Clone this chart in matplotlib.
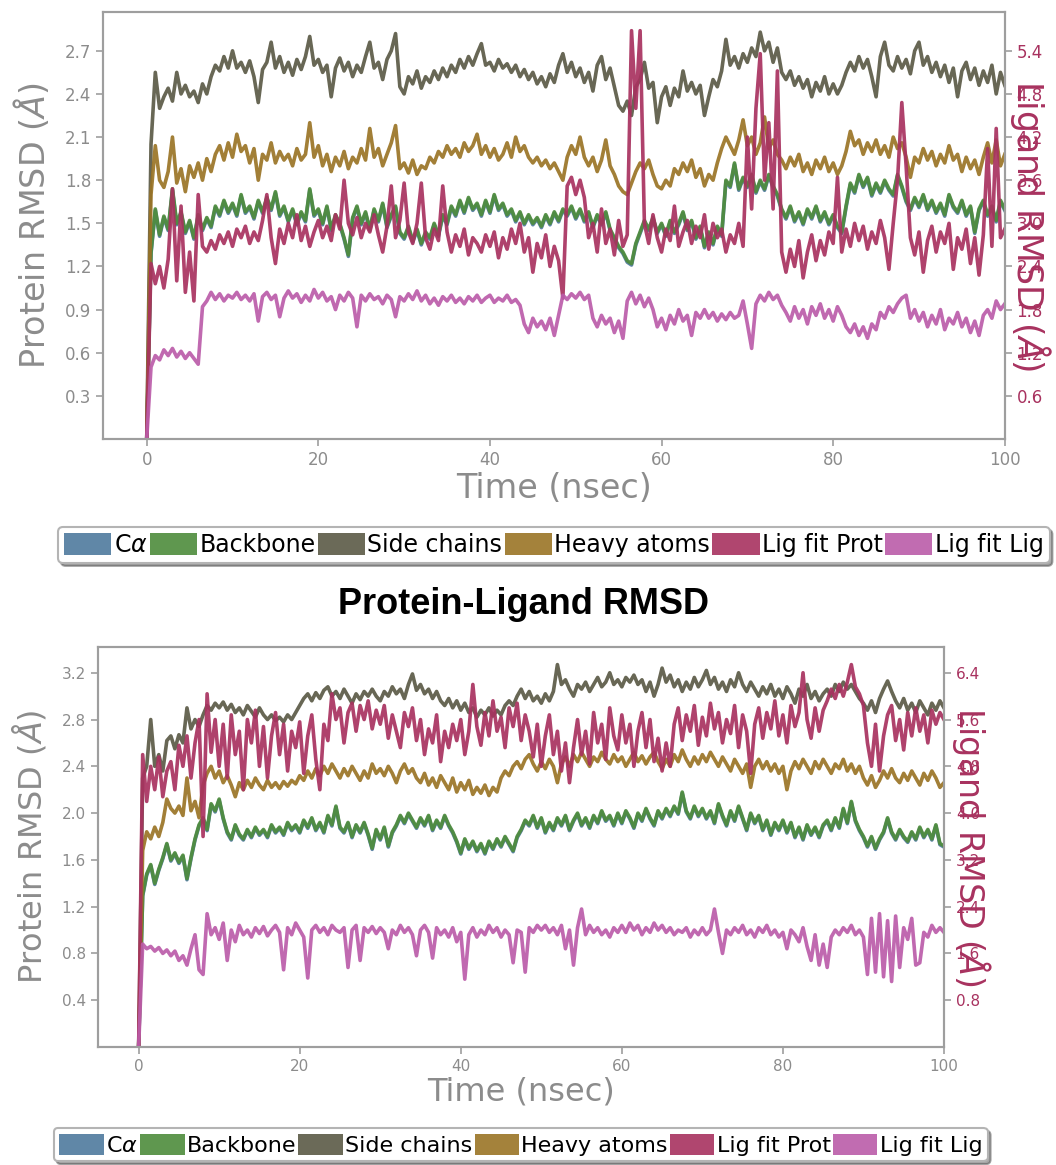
import numpy as np
import matplotlib
matplotlib.use("Agg")
import matplotlib.pyplot as plt
import matplotlib.patches as mpatches

plt.rcParams['font.family'] = ['DejaVu Sans']
plt.rcParams['mathtext.fontset'] = 'dejavusans'

# ---------------- data (RMSD, Angstrom, one reading every 0.5 ns) ----------------
time_ns = np.linspace(0, 100, 201)

series_names = ['C$\\alpha$', 'Backbone', 'Side chains', 'Heavy atoms', 'Lig fit Prot', 'Lig fit Lig']

# top panel
top_ca = [
    0.00, 1.29, 1.59, 1.41, 1.54, 1.45, 1.73, 1.49, 1.57, 1.43, 1.51, 1.39, 1.55, 1.45, 1.53, 1.47, 1.61, 1.55, 1.65, 1.57,
    1.63, 1.55, 1.69, 1.57, 1.61, 1.53, 1.65, 1.57, 1.67, 1.59, 1.71, 1.55, 1.61, 1.51, 1.59, 1.49, 1.57, 1.51, 1.73, 1.55,
    1.59, 1.49, 1.61, 1.45, 1.55, 1.49, 1.39, 1.27, 1.53, 1.61, 1.49, 1.57, 1.45, 1.59, 1.51, 1.63, 1.47, 1.55, 1.61, 1.43,
    1.39, 1.47, 1.37, 1.45, 1.35, 1.43, 1.39, 1.49, 1.41, 1.55, 1.49, 1.61, 1.55, 1.65, 1.57, 1.67, 1.59, 1.63, 1.55, 1.65,
    1.57, 1.69, 1.59, 1.63, 1.55, 1.59, 1.51, 1.57, 1.49, 1.55, 1.49, 1.53, 1.47, 1.55, 1.49, 1.57, 1.51, 1.59, 1.55, 1.61,
    1.53, 1.59, 1.51, 1.57, 1.47, 1.55, 1.49, 1.57, 1.45, 1.39, 1.33, 1.29, 1.23, 1.21, 1.35, 1.43, 1.51, 1.45, 1.53, 1.43,
    1.49, 1.41, 1.51, 1.43, 1.49, 1.57, 1.45, 1.51, 1.39, 1.47, 1.33, 1.43, 1.35, 1.47, 1.41, 1.79, 1.75, 1.91, 1.73, 1.81,
    1.75, 1.83, 1.71, 1.79, 1.73, 1.83, 1.75, 1.69, 1.59, 1.53, 1.61, 1.51, 1.57, 1.49, 1.59, 1.53, 1.61, 1.51, 1.57, 1.49,
    1.55, 1.47, 1.43, 1.61, 1.77, 1.71, 1.83, 1.75, 1.81, 1.69, 1.77, 1.71, 1.79, 1.73, 1.69, 1.83, 1.75, 1.65, 1.59, 1.67,
    1.61, 1.69, 1.59, 1.65, 1.57, 1.63, 1.55, 1.69, 1.61, 1.57, 1.65, 1.55, 1.61, 1.43, 1.59, 1.65, 1.55, 1.61, 1.51, 1.65,
    1.59]
top_backbone = [
    0.00, 1.30, 1.60, 1.42, 1.55, 1.46, 1.74, 1.50, 1.58, 1.44, 1.52, 1.40, 1.56, 1.46, 1.54, 1.48, 1.62, 1.56, 1.66, 1.58,
    1.64, 1.56, 1.70, 1.58, 1.62, 1.54, 1.66, 1.58, 1.68, 1.60, 1.72, 1.56, 1.62, 1.52, 1.60, 1.50, 1.58, 1.52, 1.74, 1.56,
    1.60, 1.50, 1.62, 1.46, 1.56, 1.50, 1.40, 1.28, 1.54, 1.62, 1.50, 1.58, 1.46, 1.60, 1.52, 1.64, 1.48, 1.56, 1.62, 1.44,
    1.40, 1.48, 1.38, 1.46, 1.36, 1.44, 1.40, 1.50, 1.42, 1.56, 1.50, 1.62, 1.56, 1.66, 1.58, 1.68, 1.60, 1.64, 1.56, 1.66,
    1.58, 1.70, 1.60, 1.64, 1.56, 1.60, 1.52, 1.58, 1.50, 1.56, 1.50, 1.54, 1.48, 1.56, 1.50, 1.58, 1.52, 1.60, 1.56, 1.62,
    1.54, 1.60, 1.52, 1.58, 1.48, 1.56, 1.50, 1.58, 1.46, 1.40, 1.34, 1.30, 1.24, 1.22, 1.36, 1.44, 1.52, 1.46, 1.54, 1.44,
    1.50, 1.42, 1.52, 1.44, 1.50, 1.58, 1.46, 1.52, 1.40, 1.48, 1.34, 1.44, 1.36, 1.48, 1.42, 1.80, 1.76, 1.92, 1.74, 1.82,
    1.76, 1.84, 1.72, 1.80, 1.74, 1.84, 1.76, 1.70, 1.60, 1.54, 1.62, 1.52, 1.58, 1.50, 1.60, 1.54, 1.62, 1.52, 1.58, 1.50,
    1.56, 1.48, 1.44, 1.62, 1.78, 1.72, 1.84, 1.76, 1.82, 1.70, 1.78, 1.72, 1.80, 1.74, 1.70, 1.84, 1.76, 1.66, 1.60, 1.68,
    1.62, 1.70, 1.60, 1.66, 1.58, 1.64, 1.56, 1.70, 1.62, 1.58, 1.66, 1.56, 1.62, 1.44, 1.60, 1.66, 1.56, 1.62, 1.52, 1.66,
    1.60]
top_side = [
    0.00, 2.05, 2.55, 2.30, 2.38, 2.44, 2.35, 2.55, 2.40, 2.46, 2.38, 2.42, 2.34, 2.47, 2.40, 2.52, 2.60, 2.56, 2.66, 2.58,
    2.70, 2.58, 2.62, 2.55, 2.63, 2.52, 2.34, 2.57, 2.62, 2.76, 2.58, 2.66, 2.55, 2.62, 2.53, 2.64, 2.57, 2.66, 2.80, 2.60,
    2.64, 2.55, 2.60, 2.38, 2.58, 2.65, 2.56, 2.62, 2.52, 2.60, 2.55, 2.66, 2.76, 2.58, 2.62, 2.50, 2.64, 2.70, 2.82, 2.45,
    2.40, 2.52, 2.47, 2.56, 2.44, 2.52, 2.48, 2.56, 2.50, 2.58, 2.52, 2.60, 2.55, 2.64, 2.58, 2.66, 2.60, 2.68, 2.75, 2.60,
    2.62, 2.56, 2.64, 2.58, 2.61, 2.55, 2.60, 2.52, 2.57, 2.50, 2.55, 2.47, 2.52, 2.45, 2.54, 2.48, 2.60, 2.68, 2.55, 2.62,
    2.52, 2.58, 2.48, 2.55, 2.42, 2.60, 2.66, 2.50, 2.58, 2.45, 2.32, 2.28, 2.35, 2.25, 2.45, 2.50, 2.62, 2.44, 2.48, 2.20,
    2.38, 2.45, 2.32, 2.44, 2.38, 2.56, 2.42, 2.48, 2.40, 2.46, 2.25, 2.38, 2.50, 2.45, 2.56, 2.78, 2.60, 2.66, 2.58, 2.68,
    2.62, 2.72, 2.66, 2.83, 2.70, 2.76, 2.62, 2.72, 2.55, 2.50, 2.56, 2.46, 2.52, 2.44, 2.50, 2.38, 2.48, 2.42, 2.52, 2.40,
    2.47, 2.40, 2.46, 2.55, 2.62, 2.56, 2.66, 2.58, 2.64, 2.52, 2.38, 2.66, 2.76, 2.60, 2.56, 2.66, 2.58, 2.64, 2.54, 2.70,
    2.76, 2.60, 2.66, 2.55, 2.62, 2.52, 2.60, 2.48, 2.58, 2.38, 2.56, 2.62, 2.50, 2.58, 2.46, 2.56, 2.48, 2.60, 2.40, 2.55,
    2.46]
top_heavy = [
    0.00, 1.70, 2.04, 1.80, 1.75, 1.86, 2.10, 1.78, 1.88, 1.72, 1.90, 1.82, 1.92, 1.80, 1.95, 1.86, 1.98, 2.04, 1.94, 2.06,
    1.96, 2.12, 2.00, 2.04, 1.92, 2.02, 1.80, 1.98, 1.94, 2.06, 1.92, 2.00, 1.94, 1.98, 1.90, 2.02, 1.94, 1.98, 2.20, 1.96,
    2.04, 1.90, 1.98, 1.86, 1.96, 1.90, 2.00, 1.88, 1.96, 1.92, 2.02, 1.94, 2.16, 1.96, 2.02, 1.90, 1.98, 2.06, 2.18, 1.88,
    1.92, 1.85, 1.94, 1.84, 1.90, 1.88, 1.96, 1.92, 2.00, 1.96, 2.04, 1.98, 2.02, 1.96, 2.06, 2.00, 2.04, 2.12, 1.98, 2.04,
    1.96, 2.02, 1.94, 1.98, 2.06, 1.96, 2.10, 2.00, 2.04, 1.96, 1.92, 1.96, 1.90, 1.94, 1.88, 1.92, 1.86, 1.80, 1.96, 2.04,
    1.98, 2.10, 1.96, 1.90, 1.96, 1.86, 1.94, 2.08, 1.90, 1.84, 1.76, 1.72, 1.70, 1.78, 1.86, 1.92, 1.88, 1.94, 1.84, 1.76,
    1.74, 1.80, 1.76, 1.88, 1.84, 1.92, 1.86, 1.94, 1.82, 1.88, 1.76, 1.84, 1.80, 1.92, 2.02, 2.10, 2.04, 1.98, 2.08, 2.22,
    2.04, 2.10, 1.98, 2.06, 2.24, 2.02, 2.08, 1.98, 1.94, 1.88, 1.96, 1.90, 1.98, 1.86, 1.92, 1.84, 1.94, 1.88, 1.96, 1.86,
    1.92, 1.84, 1.90, 2.00, 2.14, 2.04, 2.08, 1.98, 2.06, 2.00, 2.08, 1.98, 2.04, 1.96, 2.10, 2.02, 2.06, 1.96, 1.82, 1.96,
    1.92, 2.02, 1.94, 2.00, 1.90, 1.98, 1.92, 2.04, 1.94, 1.98, 1.86, 1.96, 1.88, 1.94, 1.84, 1.96, 2.06, 1.92, 2.08, 1.90,
    1.98]
top_ligprot = [
    0.00, 1.22, 1.08, 1.20, 1.05, 1.25, 1.74, 1.10, 1.62, 1.02, 1.30, 0.96, 1.70, 1.34, 1.30, 1.38, 1.32, 1.42, 1.36, 1.44,
    1.34, 1.46, 1.40, 1.48, 1.36, 1.44, 1.38, 1.52, 1.70, 1.40, 1.22, 1.46, 1.36, 1.50, 1.40, 1.56, 1.38, 1.48, 1.34, 1.44,
    1.52, 1.40, 1.48, 1.38, 1.56, 1.46, 1.80, 1.50, 1.42, 1.54, 1.40, 1.50, 1.44, 1.56, 1.42, 1.30, 1.48, 1.76, 1.40, 1.52,
    1.78, 1.44, 1.36, 1.50, 1.78, 1.40, 1.32, 1.46, 1.38, 1.76, 1.44, 1.30, 1.42, 1.34, 1.46, 1.28, 1.40, 1.36, 1.30, 1.42,
    1.34, 1.44, 1.26, 1.40, 1.32, 1.46, 1.36, 1.50, 1.30, 1.40, 1.16, 1.36, 1.26, 1.42, 1.20, 1.34, 1.24, 0.98, 1.76, 1.82,
    1.70, 1.80, 1.68, 1.40, 1.50, 1.30, 1.60, 1.36, 1.46, 1.28, 1.52, 1.34, 1.42, 2.84, 2.30, 2.84, 1.50, 1.36, 1.56, 1.40,
    1.30, 1.46, 1.38, 1.62, 1.34, 1.44, 1.52, 1.36, 1.48, 1.40, 1.56, 1.32, 1.50, 1.40, 1.46, 1.30, 1.42, 1.36, 1.50, 1.34,
    2.10, 1.60, 2.30, 2.68, 1.80, 2.20, 1.60, 2.56, 1.30, 1.16, 1.32, 1.20, 1.38, 1.12, 1.30, 1.42, 1.24, 1.38, 1.28, 1.44,
    1.36, 1.82, 1.30, 1.46, 1.34, 1.50, 1.38, 1.48, 1.32, 1.44, 1.36, 1.52, 1.40, 1.18, 1.50, 1.80, 2.34, 1.90, 1.40, 1.28,
    1.44, 1.16, 1.38, 1.48, 1.30, 1.44, 1.36, 1.50, 1.18, 1.40, 1.32, 1.46, 1.22, 1.40, 1.14, 1.42, 2.02, 1.34, 2.16, 1.40,
    1.46]
top_liglig = [
    0.00, 0.50, 0.58, 0.55, 0.62, 0.58, 0.63, 0.57, 0.61, 0.56, 0.60, 0.56, 0.52, 0.92, 0.96, 1.02, 0.97, 1.01, 0.96, 1.00,
    0.98, 1.02, 0.97, 1.00, 0.96, 1.01, 0.82, 0.99, 1.02, 0.97, 1.00, 0.85, 0.98, 1.03, 0.98, 1.01, 0.95, 1.00, 0.96, 1.04,
    0.98, 1.02, 0.96, 0.99, 0.90, 1.00, 0.96, 1.02, 0.98, 0.78, 1.00, 0.96, 1.01, 0.97, 0.99, 0.94, 1.00, 0.97, 0.85, 0.99,
    0.96, 1.01, 0.97, 1.03, 0.96, 1.00, 0.94, 0.98, 0.93, 0.99, 0.96, 1.00, 0.95, 0.98, 0.94, 0.99, 0.96, 1.00, 0.95, 0.98,
    1.00, 0.95, 0.98, 0.96, 1.00, 0.95, 0.97, 0.93, 0.80, 0.74, 0.84, 0.78, 0.82, 0.76, 0.84, 0.72, 0.86, 1.00, 0.97, 1.01,
    0.98, 1.02, 0.97, 1.00, 0.84, 0.78, 0.86, 0.80, 0.84, 0.74, 0.82, 0.70, 0.96, 1.02, 0.94, 1.00, 0.92, 0.98, 0.90, 0.78,
    0.84, 0.76, 0.86, 0.80, 0.90, 0.82, 0.86, 0.72, 0.88, 0.84, 0.90, 0.84, 0.88, 0.82, 0.87, 0.83, 0.88, 0.84, 0.86, 0.96,
    0.80, 0.63, 0.94, 1.00, 0.96, 1.02, 0.97, 1.00, 0.93, 0.88, 0.82, 0.92, 0.84, 0.90, 0.80, 0.92, 0.86, 0.94, 0.84, 0.90,
    0.82, 0.92, 0.86, 0.78, 0.74, 0.80, 0.72, 0.78, 0.70, 0.80, 0.76, 0.88, 0.84, 0.92, 0.88, 0.94, 0.98, 1.00, 0.84, 0.90,
    0.82, 0.88, 0.78, 0.86, 0.80, 0.90, 0.76, 0.84, 0.80, 0.88, 0.78, 0.84, 0.74, 0.82, 0.72, 0.86, 0.90, 0.84, 0.96, 0.90,
    0.94]

# bottom panel
bot_ca = [
    0.00, 1.29, 1.47, 1.55, 1.39, 1.51, 1.61, 1.73, 1.59, 1.65, 1.57, 1.63, 1.43, 1.61, 1.77, 1.89, 1.95, 1.85, 2.07, 2.01,
    2.11, 1.95, 1.83, 1.77, 1.89, 1.81, 1.77, 1.85, 1.79, 1.87, 1.81, 1.85, 1.79, 1.89, 1.83, 1.87, 1.81, 1.91, 1.85, 1.89,
    1.83, 1.93, 1.87, 1.95, 1.85, 1.91, 1.83, 1.97, 1.89, 2.05, 1.87, 1.83, 1.91, 1.79, 1.89, 1.83, 1.91, 1.81, 1.69, 1.85,
    1.77, 1.87, 1.71, 1.83, 1.89, 1.97, 1.91, 1.99, 1.93, 1.87, 1.95, 1.89, 1.97, 1.85, 1.93, 1.87, 1.97, 1.89, 1.83, 1.75,
    1.65, 1.77, 1.69, 1.75, 1.67, 1.73, 1.65, 1.75, 1.69, 1.77, 1.71, 1.79, 1.73, 1.67, 1.79, 1.85, 1.93, 1.89, 1.97, 1.87,
    1.95, 1.83, 1.91, 1.85, 1.95, 1.89, 1.97, 1.85, 1.93, 1.99, 1.89, 1.95, 1.87, 1.97, 1.91, 2.01, 1.93, 1.97, 1.89, 1.99,
    1.91, 2.01, 1.95, 1.87, 1.99, 1.93, 2.03, 1.95, 1.89, 2.01, 1.95, 2.03, 1.97, 2.05, 1.99, 2.17, 2.01, 1.95, 2.05, 1.97,
    2.03, 1.95, 2.01, 1.91, 2.07, 1.97, 1.89, 2.01, 1.93, 2.05, 1.95, 1.85, 1.99, 1.91, 1.97, 1.85, 1.93, 1.81, 1.91, 1.85,
    1.93, 1.83, 1.91, 1.79, 1.87, 1.77, 1.89, 1.81, 1.87, 1.79, 1.89, 1.93, 1.85, 1.95, 1.87, 2.03, 1.91, 2.09, 1.93, 1.85,
    1.79, 1.71, 1.79, 1.69, 1.77, 1.83, 1.95, 1.83, 1.77, 1.85, 1.79, 1.75, 1.83, 1.77, 1.87, 1.79, 1.85, 1.77, 1.89, 1.73,
    1.71]
bot_backbone = [
    0.00, 1.30, 1.48, 1.56, 1.40, 1.52, 1.62, 1.74, 1.60, 1.66, 1.58, 1.64, 1.44, 1.62, 1.78, 1.90, 1.96, 1.86, 2.08, 2.02,
    2.12, 1.96, 1.84, 1.78, 1.90, 1.82, 1.78, 1.86, 1.80, 1.88, 1.82, 1.86, 1.80, 1.90, 1.84, 1.88, 1.82, 1.92, 1.86, 1.90,
    1.84, 1.94, 1.88, 1.96, 1.86, 1.92, 1.84, 1.98, 1.90, 2.06, 1.88, 1.84, 1.92, 1.80, 1.90, 1.84, 1.92, 1.82, 1.70, 1.86,
    1.78, 1.88, 1.72, 1.84, 1.90, 1.98, 1.92, 2.00, 1.94, 1.88, 1.96, 1.90, 1.98, 1.86, 1.94, 1.88, 1.98, 1.90, 1.84, 1.76,
    1.66, 1.78, 1.70, 1.76, 1.68, 1.74, 1.66, 1.76, 1.70, 1.78, 1.72, 1.80, 1.74, 1.68, 1.80, 1.86, 1.94, 1.90, 1.98, 1.88,
    1.96, 1.84, 1.92, 1.86, 1.96, 1.90, 1.98, 1.86, 1.94, 2.00, 1.90, 1.96, 1.88, 1.98, 1.92, 2.02, 1.94, 1.98, 1.90, 2.00,
    1.92, 2.02, 1.96, 1.88, 2.00, 1.94, 2.04, 1.96, 1.90, 2.02, 1.96, 2.04, 1.98, 2.06, 2.00, 2.18, 2.02, 1.96, 2.06, 1.98,
    2.04, 1.96, 2.02, 1.92, 2.08, 1.98, 1.90, 2.02, 1.94, 2.06, 1.96, 1.86, 2.00, 1.92, 1.98, 1.86, 1.94, 1.82, 1.92, 1.86,
    1.94, 1.84, 1.92, 1.80, 1.88, 1.78, 1.90, 1.82, 1.88, 1.80, 1.90, 1.94, 1.86, 1.96, 1.88, 2.04, 1.92, 2.10, 1.94, 1.86,
    1.80, 1.72, 1.80, 1.70, 1.78, 1.84, 1.96, 1.84, 1.78, 1.86, 1.80, 1.76, 1.84, 1.78, 1.88, 1.80, 1.86, 1.78, 1.90, 1.74,
    1.72]
bot_side = [
    0.00, 2.30, 2.40, 2.80, 2.40, 2.50, 2.36, 2.62, 2.66, 2.55, 2.67, 2.60, 2.90, 2.72, 2.80, 2.74, 2.84, 2.92, 2.88, 2.94,
    2.90, 2.95, 2.88, 2.93, 2.86, 2.90, 2.84, 2.92, 2.87, 2.82, 2.90, 2.84, 2.80, 2.84, 2.79, 2.82, 2.78, 2.84, 2.80, 2.86,
    2.92, 2.98, 3.02, 2.96, 3.03, 2.98, 3.05, 3.08, 3.00, 3.04, 2.98, 3.06, 3.00, 2.94, 3.02, 2.97, 3.04, 3.00, 3.06, 3.00,
    2.96, 3.04, 3.00, 3.08, 3.02, 3.06, 2.98, 3.10, 3.19, 3.05, 3.10, 3.02, 3.06, 2.98, 3.04, 2.96, 2.92, 2.98, 2.90, 2.96,
    2.88, 2.94, 2.86, 2.90, 2.82, 2.88, 2.84, 2.90, 2.83, 2.88, 2.84, 2.92, 2.96, 2.92, 3.00, 3.06, 2.98, 3.04, 2.96, 3.00,
    2.94, 3.02, 2.96, 3.04, 3.27, 3.10, 3.14, 3.06, 3.00, 3.10, 3.06, 3.12, 3.04, 3.10, 3.16, 3.08, 3.12, 3.20, 3.10, 3.14,
    3.08, 3.16, 3.12, 3.18, 3.10, 3.14, 3.04, 3.12, 3.00, 3.10, 3.24, 3.12, 3.18, 3.08, 3.14, 3.04, 3.12, 3.06, 3.16, 3.08,
    3.14, 3.22, 3.10, 3.16, 3.06, 3.12, 3.04, 3.14, 3.08, 3.20, 3.10, 3.04, 3.12, 3.06, 3.00, 3.08, 3.02, 3.10, 3.00, 3.06,
    2.98, 3.08, 3.02, 2.94, 3.06, 3.00, 3.10, 2.98, 3.04, 2.96, 3.02, 3.06, 3.00, 3.10, 3.04, 3.12, 3.06, 3.10, 3.04, 2.98,
    2.94, 2.88, 2.96, 2.86, 2.98, 3.06, 3.13, 3.04, 2.96, 2.90, 2.98, 2.88, 2.94, 2.86, 2.96, 2.90, 2.84, 2.94, 2.88, 2.96,
    2.90]
bot_heavy = [
    0.00, 1.68, 1.84, 1.78, 1.88, 1.80, 1.92, 2.12, 2.04, 2.00, 2.06, 1.98, 2.30, 2.02, 2.10, 1.96, 2.24, 2.34, 2.40, 2.30,
    2.36, 2.26, 2.32, 2.24, 2.14, 2.26, 2.20, 2.28, 2.22, 2.30, 2.24, 2.20, 2.28, 2.22, 2.26, 2.21, 2.27, 2.23, 2.28, 2.25,
    2.32, 2.28, 2.36, 2.30, 2.38, 2.32, 2.40, 2.34, 2.42, 2.36, 2.30, 2.38, 2.32, 2.40, 2.34, 2.28, 2.36, 2.30, 2.42, 2.34,
    2.38, 2.32, 2.40, 2.34, 2.26, 2.36, 2.42, 2.34, 2.38, 2.30, 2.26, 2.34, 2.24, 2.30, 2.22, 2.32, 2.26, 2.20, 2.30, 2.18,
    2.26, 2.20, 2.28, 2.16, 2.22, 2.17, 2.24, 2.15, 2.22, 2.18, 2.30, 2.36, 2.32, 2.40, 2.44, 2.38, 2.46, 2.50, 2.42, 2.36,
    2.44, 2.38, 2.46, 2.40, 2.26, 2.42, 2.48, 2.40, 2.50, 2.44, 2.52, 2.46, 2.40, 2.48, 2.44, 2.52, 2.46, 2.42, 2.50, 2.44,
    2.48, 2.40, 2.46, 2.52, 2.44, 2.49, 2.42, 2.48, 2.52, 2.44, 2.38, 2.46, 2.40, 2.50, 2.44, 2.54, 2.46, 2.40, 2.48, 2.42,
    2.50, 2.44, 2.52, 2.46, 2.40, 2.48, 2.42, 2.36, 2.46, 2.40, 2.34, 2.42, 2.22, 2.40, 2.46, 2.38, 2.44, 2.36, 2.42, 2.34,
    2.40, 2.20, 2.36, 2.44, 2.38, 2.46, 2.40, 2.34, 2.44, 2.38, 2.46, 2.40, 2.34, 2.42, 2.38, 2.46, 2.36, 2.42, 2.34, 2.40,
    2.30, 2.24, 2.32, 2.22, 2.28, 2.36, 2.30, 2.38, 2.30, 2.26, 2.34, 2.28, 2.36, 2.30, 2.24, 2.34, 2.28, 2.36, 2.30, 2.22,
    2.26]
bot_ligprot = [
    0.00, 2.50, 2.10, 2.40, 2.20, 2.48, 2.14, 2.36, 2.44, 2.20, 2.58, 2.40, 2.66, 2.30, 2.60, 2.80, 1.80, 3.02, 2.52, 2.80,
    2.40, 2.76, 2.30, 2.84, 2.50, 2.70, 2.20, 2.80, 2.60, 2.88, 2.40, 2.74, 2.30, 2.66, 2.86, 2.50, 2.76, 2.36, 2.70, 2.56,
    2.78, 2.34, 2.66, 2.84, 2.46, 2.20, 2.76, 2.62, 3.02, 2.80, 2.90, 2.60, 2.86, 2.94, 2.70, 2.92, 2.80, 2.96, 2.72, 2.88,
    2.76, 2.92, 2.64, 2.84, 2.70, 2.56, 2.86, 2.74, 2.90, 2.62, 2.80, 2.50, 2.72, 2.60, 2.84, 2.44, 2.70, 2.56, 2.76, 2.62,
    2.80, 2.50, 2.70, 3.10, 2.74, 2.58, 2.86, 2.66, 2.96, 2.70, 2.82, 2.56, 2.90, 2.74, 2.94, 2.62, 2.84, 2.70, 2.48, 2.76,
    2.40, 2.66, 2.84, 2.50, 2.70, 2.36, 2.60, 2.26, 2.56, 2.80, 2.50, 2.70, 2.42, 2.86, 2.60, 2.76, 2.46, 2.90, 2.66, 2.54,
    2.84, 2.60, 2.76, 2.40, 2.70, 2.86, 2.56, 2.80, 2.44, 2.64, 2.36, 2.60, 2.40, 2.76, 2.90, 2.62, 2.84, 2.70, 2.92, 2.58,
    2.82, 2.66, 2.94, 2.72, 2.86, 2.60, 2.80, 2.68, 2.92, 2.56, 2.84, 2.70, 2.34, 2.76, 2.90, 2.64, 2.86, 2.72, 2.96, 2.66,
    2.84, 2.60, 2.92, 2.74, 2.86, 3.20, 2.80, 2.64, 2.90, 2.70, 2.88, 2.96, 3.06, 2.98, 3.10, 3.00, 3.12, 3.27, 3.08, 3.02,
    2.92, 2.60, 2.40, 2.76, 2.36, 2.66, 2.84, 2.92, 2.62, 2.80, 2.54, 2.86, 2.66, 2.90, 2.70, 2.84, 2.60, 2.88, 2.76, 2.86,
    2.80]
bot_liglig = [
    0.00, 0.88, 0.84, 0.86, 0.82, 0.85, 0.80, 0.83, 0.78, 0.82, 0.74, 0.78, 0.70, 0.84, 0.96, 0.66, 0.62, 1.14, 0.96, 1.02,
    0.92, 1.06, 0.74, 1.00, 0.90, 1.04, 0.96, 1.00, 0.94, 1.02, 0.97, 1.03, 0.95, 1.00, 1.04, 0.98, 0.66, 1.02, 0.96, 1.06,
    1.00, 0.94, 0.59, 1.00, 1.04, 0.98, 1.02, 0.96, 1.04, 1.00, 0.98, 1.02, 0.68, 1.00, 1.04, 0.74, 1.02, 0.98, 1.03, 0.97,
    1.02, 0.98, 0.84, 1.00, 0.96, 1.04, 0.98, 1.02, 0.96, 0.78, 1.00, 1.04, 0.98, 0.76, 1.02, 0.96, 1.00, 0.94, 1.02, 0.90,
    0.98, 0.58, 0.96, 1.02, 0.94, 1.00, 0.96, 1.04, 0.98, 1.02, 0.94, 1.00, 0.96, 0.72, 1.00, 0.98, 0.64, 1.02, 0.98, 1.04,
    1.00, 1.04, 0.98, 1.02, 0.96, 1.04, 0.84, 1.00, 0.70, 1.02, 1.18, 0.96, 1.04, 0.98, 1.02, 0.96, 1.00, 0.94, 1.02, 0.98,
    1.04, 0.98, 1.06, 1.00, 1.04, 0.96, 1.02, 0.98, 1.06, 1.00, 1.04, 0.98, 1.02, 0.96, 1.00, 0.98, 1.02, 0.94, 1.00, 0.96,
    1.02, 0.96, 1.00, 1.18, 0.98, 0.80, 1.00, 0.96, 1.02, 0.98, 1.04, 0.96, 1.00, 0.94, 1.02, 0.98, 1.04, 0.96, 1.00, 0.94,
    0.98, 0.84, 1.00, 0.96, 0.90, 1.02, 0.86, 0.74, 0.96, 0.70, 0.88, 0.68, 0.94, 1.00, 0.96, 1.02, 0.98, 1.04, 0.96, 1.00,
    0.94, 0.62, 1.10, 0.64, 1.14, 0.60, 1.08, 0.56, 1.12, 0.68, 1.02, 0.92, 1.10, 0.70, 0.72, 0.98, 0.94, 1.04, 0.98, 1.02,
    0.98]

# axis ticks
top_yticks = [0.3, 0.6, 0.9, 1.2, 1.5, 1.8, 2.1, 2.4, 2.7]
top_rticks = [0.6, 1.2, 1.8, 2.4, 3.0, 3.6, 4.2, 4.8, 5.4]
bot_yticks = [0.4, 0.8, 1.2, 1.6, 2.0, 2.4, 2.8, 3.2]
bot_rticks = [0.8, 1.6, 2.4, 3.2, 4.0, 4.8, 5.6, 6.4]
xticks = [0, 20, 40, 60, 80, 100]

# ---------------- style ----------------
line_colors = ['#4f7a9e', '#4e8c3c', '#5b5a46', '#9a7426', '#a8325f', '#bb5ca9']
gray = '#8c8c8c'
spine_gray = '#9e9e9e'
lig_color = '#a8325f'


def draw_panel(ax, series, ylim, yticks, rticks, lab_x_left, lab_x_right, leg_y,
               label_size, rlabel_size, tick_size, leg_size):
    for vals, col in zip(series, line_colors):
        ax.plot(time_ns, vals, color=col, lw=2.6, alpha=0.92)
    ax.set_xlim(-5.1, 100)
    ax.set_ylim(ylim)
    ax.set_xticks(xticks)
    ax.set_yticks(yticks)
    ax.set_xlabel('Time (nsec)', fontsize=label_size, color=gray, labelpad=2)
    ax.set_ylabel(r'Protein RMSD ($\AA$)', fontsize=label_size, color=gray, va='center')
    ax.yaxis.set_label_coords(lab_x_left, 0.5)
    ax.tick_params(axis='both', colors=spine_gray, labelcolor=gray, labelsize=tick_size,
                   length=5, width=1.2, direction='out')
    ax.tick_params(axis='y', right=False)

    # right axis: ligand RMSD, same data range doubled
    ax2 = ax.twinx()
    ax2.set_ylim(ylim[0] * 2, ylim[1] * 2)
    ax2.set_yticks(rticks)
    ax2.tick_params(axis='y', colors=spine_gray, labelcolor=lig_color, labelsize=tick_size,
                    length=5, width=1.2, direction='out')
    ax2.set_ylabel(r'Ligand RMSD ($\AA$)', fontsize=rlabel_size, color=lig_color,
                   rotation=270, va='center', ha='center')
    ax2.yaxis.set_label_coords(lab_x_right, 0.5)

    for a in (ax, ax2):
        for sp in a.spines.values():
            sp.set_color(spine_gray)
            sp.set_linewidth(1.5)

    handles = [mpatches.Patch(facecolor=c, edgecolor='none', alpha=0.9) for c in line_colors]
    leg = ax.legend(handles, series_names, loc='upper center', bbox_to_anchor=(0.5, leg_y),
                    ncol=6, fontsize=leg_size, fancybox=True, shadow=True, frameon=True,
                    handlelength=2.0, handleheight=1.1, handletextpad=0.1,
                    columnspacing=0.1, borderpad=0.25, borderaxespad=0.0)
    leg.get_frame().set_edgecolor('#b4b4b4')
    leg.get_frame().set_linewidth(1.5)
    return ax2


fig = plt.figure(figsize=(10.56, 11.65), dpi=100)

ax_top = fig.add_axes([0.0975, 0.6232, 0.854, 0.3665])
draw_panel(ax_top,
           [top_ca, top_backbone, top_side, top_heavy, top_ligprot, top_liglig],
           (0.0, 2.97), top_yticks, top_rticks, -0.079, 1.029, -0.206,
           24, 25, 12, 17)

fig.text(0.496, 0.4807, 'Protein-Ligand RMSD', ha='center', va='center',
         fontsize=26, fontweight='bold', family=['Liberation Sans', 'DejaVu Sans'])

ax_bot = fig.add_axes([0.0924, 0.1013, 0.8015, 0.3433])
draw_panel(ax_bot,
           [bot_ca, bot_backbone, bot_side, bot_heavy, bot_ligprot, bot_liglig],
           (0.0, 3.42), bot_yticks, bot_rticks, -0.080, 1.032, -0.2025,
           23, 24, 11, 16)

fig.savefig('out.png', dpi=100)
